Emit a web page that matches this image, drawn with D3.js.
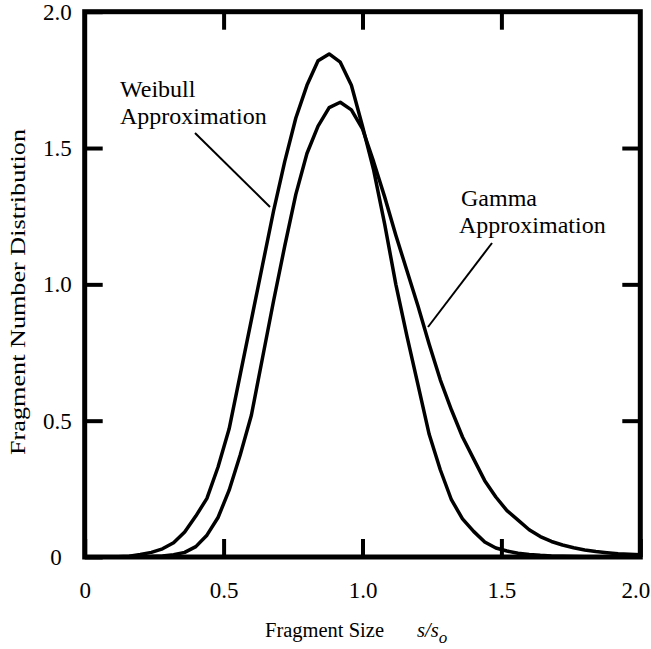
<!DOCTYPE html>
<html>
<head>
<meta charset="utf-8">
<script src="https://cdn.jsdelivr.net/npm/d3@7"></script>
<style>
  html, body { margin: 0; padding: 0; background: #fff; }
  svg { display: block; }
  svg text { font-family: "Liberation Serif", "DejaVu Serif", "Noto Serif", Times, serif !important; fill: #000; }
</style>
</head>
<body>
<script>
// ---- data ----
const sizeValues = [0.04,0.08,0.12,0.16,0.20,0.24,0.28,0.32,0.36,0.40,0.44,0.48,0.52,0.56,0.60,0.64,0.68,0.72,0.76,0.80,
  0.84,0.88,0.92,0.96,1.00,1.04,1.08,1.12,1.16,1.20,1.24,1.28,1.32,1.36,1.40,1.44,1.48,1.52,1.56,1.60,
  1.64,1.68,1.72,1.76,1.80,1.84,1.88,1.92,1.96,2.00];
const weibullValues = [0,0,0.001,0.003,0.009,0.017,0.030,0.052,0.092,0.150,0.215,0.33,0.47,0.67,0.87,1.07,1.27,1.45,1.61,1.73,
  1.82,1.845,1.815,1.73,1.58,1.42,1.22,1.00,0.81,0.63,0.45,0.32,0.21,0.14,0.094,0.055,0.033,0.022,0.014,0.009,
  0.006,0.004,0.003,0.002,0.001,0.001,0,0,0,0];
const gammaValues = [0,0,0,0,0.001,0.002,0.004,0.008,0.017,0.038,0.08,0.145,0.245,0.375,0.52,0.73,0.94,1.14,1.33,1.48,
  1.58,1.648,1.668,1.64,1.57,1.45,1.32,1.18,1.05,0.92,0.78,0.65,0.54,0.44,0.36,0.28,0.22,0.17,0.135,0.10,
  0.075,0.057,0.044,0.034,0.026,0.020,0.016,0.012,0.010,0.008];
const xTickValues = [0, 0.5, 1.0, 1.5, 2.0];
const xTickLabels = ["0", "0.5", "1.0", "1.5", "2.0"];
const yTickValues = [0, 0.5, 1.0, 1.5, 2.0];
const yTickLabels = ["0", "0.5", "1.0", "1.5", "2.0"];
const innerTickValues = [0.5, 1.0, 1.5];

const W = 651, H = 649;
const pLeft = 84.7, pRight = 640.3, pTop = 11.7, pBottom = 557;
const serif = '"Liberation Serif", "DejaVu Serif", "Noto Serif", Times, serif';

const svg = d3.select("body").append("svg").attr("width", W).attr("height", H)
  .attr("font-family", serif);
svg.append("rect").attr("width", W).attr("height", H).attr("fill", "#fff");

const x = d3.scaleLinear().domain([0, 2]).range([pLeft, pRight]);
const y = d3.scaleLinear().domain([0, 2]).range([pBottom, pTop]);

// ---- axes ----
const bottomAxis = svg.append("g").attr("transform", `translate(0,${pBottom})`)
  .call(d3.axisBottom(x).tickValues(xTickValues).tickFormat((d, i) => xTickLabels[i])
    .tickSize(-18).tickPadding(25).tickSizeOuter(0));
const leftAxis = svg.append("g").attr("transform", `translate(${pLeft},0)`)
  .call(d3.axisLeft(y).tickValues(yTickValues).tickFormat((d, i) => yTickLabels[i])
    .tickSize(-18).tickPadding(13).tickSizeOuter(0));
svg.append("g").attr("transform", `translate(0,${pTop})`)
  .call(d3.axisTop(x).tickValues(innerTickValues).tickFormat("").tickSize(-18).tickSizeOuter(0));
svg.append("g").attr("transform", `translate(${pRight},0)`)
  .call(d3.axisRight(y).tickValues(innerTickValues).tickFormat("").tickSize(-18).tickSizeOuter(0));

svg.selectAll("g").attr("font-family", serif);
svg.selectAll(".domain").remove();
svg.selectAll(".tick line").attr("stroke", "#000").attr("stroke-width", 4);
svg.selectAll(".tick text").attr("font-size", 23).attr("fill", "#000");
leftAxis.selectAll(".tick text").filter(d => d === 0).attr("x", -23);
bottomAxis.selectAll(".tick text").filter(d => d === 2).attr("x", -5);

// frame
svg.append("rect")
  .attr("x", pLeft).attr("y", pTop).attr("width", pRight - pLeft).attr("height", pBottom - pTop)
  .attr("fill", "none").attr("stroke", "#000").attr("stroke-width", 5);

// ---- curves ----
const line = d3.line().x(d => x(d[0])).y(d => y(d[1]));
const series = [weibullValues, gammaValues];
series.forEach(vals => {
  svg.append("path")
    .datum(sizeValues.map((s, i) => [s, vals[i]]))
    .attr("d", line)
    .attr("fill", "none").attr("stroke", "#000").attr("stroke-width", 3.5)
    .attr("stroke-linejoin", "round");
});

// ---- annotations ----
const ann = svg.append("g").attr("font-size", 24);
ann.append("text").attr("x", 120).attr("y", 97).text("Weibull");
ann.append("text").attr("x", 120).attr("y", 124).text("Approximation");
ann.append("text").attr("x", 461).attr("y", 206).text("Gamma");
ann.append("text").attr("x", 459).attr("y", 233).text("Approximation");
svg.append("line").attr("x1", 195).attr("y1", 133).attr("x2", 270).attr("y2", 207)
  .attr("stroke", "#000").attr("stroke-width", 2);
svg.append("line").attr("x1", 492).attr("y1", 243).attr("x2", 428).attr("y2", 327)
  .attr("stroke", "#000").attr("stroke-width", 2);

// ---- axis titles ----
const xt = svg.append("text").attr("x", 265).attr("y", 637).attr("font-size", 20.5);
xt.append("tspan").text("Fragment Size");
xt.append("tspan").attr("x", 417).attr("font-style", "italic").text("s/s");
xt.append("tspan").attr("font-style", "italic").attr("font-size", 17).attr("dy", 6).text("o");

svg.append("text")
  .attr("transform", `translate(25,292) rotate(-90)`)
  .attr("text-anchor", "middle").attr("font-size", 21)
  .attr("textLength", 326).attr("lengthAdjust", "spacingAndGlyphs")
  .text("Fragment Number Distribution");
</script>
</body>
</html>
